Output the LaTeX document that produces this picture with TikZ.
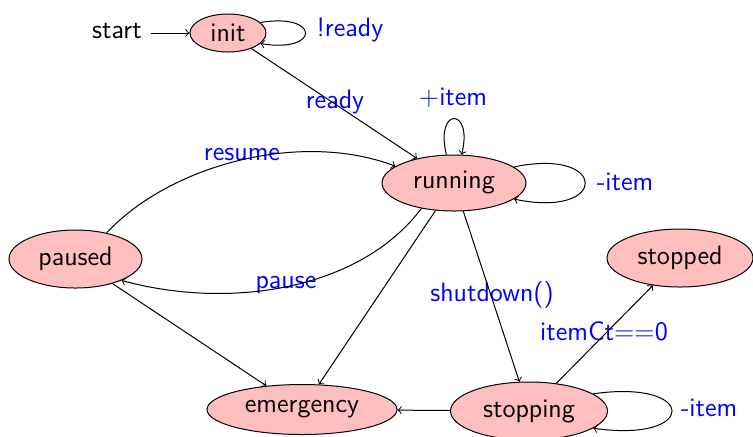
\documentclass[tikz,border=0pt]{standalone}
\usetikzlibrary{shapes.geometric}
\begin{document}
\begin{tikzpicture}[x=0.45pt,y=-0.45pt,
  every node/.style={font=\fontsize{12}{14}\selectfont\sffamily},
  st/.style={ellipse,draw,fill=red!25,inner sep=0pt},
  lbl/.style={text=blue,inner sep=0pt,text height=1.6ex,text depth=0.45ex},
  every path/.style={line width=0.45pt}]
\useasboundingbox (0,0) rectangle (753,436);
% states
\node[lbl,text=black] (start) at (117,33) {start};
\node[st,minimum width=34.2pt,minimum height=17.1pt] (init) at (228,33) {init};
\node[st,minimum width=64.8pt,minimum height=25.2pt] (running) at (454,183) {running};
\node[st,minimum width=59.85pt,minimum height=26.1pt] (paused) at (75.5,259) {paused};
\node[st,minimum width=65.7pt,minimum height=26.1pt] (stopped) at (680,258) {stopped};
\node[st,minimum width=85.5pt,minimum height=22.5pt] (emergency) at (302,409.5) {emergency};
\node[st,minimum width=70.65pt,minimum height=26.1pt] (stopping) at (529,411) {stopping};
% labels
\node[lbl] (l1) at (350,31) {!ready};
\node[lbl] (l2) at (335,103) {ready};
\node[lbl] (l3) at (453,100) {$+$item};
\node[lbl] (l4) at (625,185) {-item};
\node[lbl] (l5) at (242,155) {resume};
\node[lbl] (l6) at (286,283) {pause};
\node[lbl] (l7) at (492,296) {shutdown()};
\node[lbl] (l8) at (604,335) {itemCt$==$0};
\node[lbl] (l9) at (709,411) {-item};
% transitions
\path (start.east) ++(9,0) coordinate (s0);
\draw[->] (s0) -- (init);
\draw[->] (init.18) .. controls +(60,-10) and +(60,10) .. (init.-18);
\draw[->] (init) -- (running);
\draw[->] (running.105) .. controls +(-12,-48) and +(12,-48) .. (running.75);
\draw[->] (running.15) .. controls +(95,-20) and +(95,20) .. (running.-15);
\draw[->] (paused.40) .. controls (170,165) and (300,130) .. (running.164);
\draw[->] (running.218) .. controls (360,290) and (230,310) .. (paused.-25);
\draw[->] (running) -- (emergency);
\draw[->] (paused) -- (emergency);
\draw[->] (running) -- (stopping);
\draw[->] (stopping) -- (stopped);
\draw[->] (stopping) -- (emergency);
\draw[->] (stopping.15) .. controls +(105,-15) and +(105,15) .. (stopping.-15);
\end{tikzpicture}
\end{document}
